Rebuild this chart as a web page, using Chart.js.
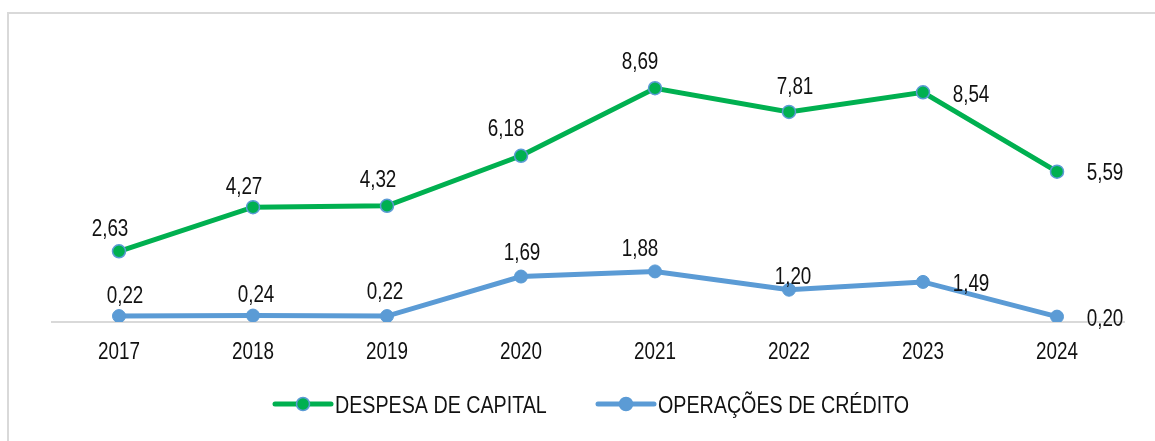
<!DOCTYPE html>
<html>
<head>
<meta charset="utf-8">
<script src="https://cdn.jsdelivr.net/npm/chart.js@4"></script>
<style>
  html, body { margin: 0; padding: 0; background: #fff; }
  #wrap { position: relative; width: 1155px; height: 441px; overflow: hidden; }
  #frame { position: absolute; left: 7px; top: 12px; width: 1200px; height: 500px; border: 2px solid #d9d9d9; box-sizing: border-box; }
  canvas { position: absolute; left: 0; top: 0; }
</style>
</head>
<body>
<div id="wrap">
  <div id="frame"></div>
  <canvas id="chart" width="1155" height="441"></canvas>
</div>
<script>
// data
const years = ['2017', '2018', '2019', '2020', '2021', '2022', '2023', '2024'];
const despesaCapital = [2.63, 4.27, 4.32, 6.18, 8.69, 7.81, 8.54, 5.59];
const operacoesCredito = [0.22, 0.24, 0.22, 1.69, 1.88, 1.20, 1.49, 0.20];
const seriesNames = ['DESPESA DE CAPITAL', 'OPERAÇÕES DE CRÉDITO'];

// label placement (offset from the point, px)
const greenLabelOffsets = [[-9, -23], [-9, -21], [-9, -27], [-15, -28], [-15, -27], [6, -26], [48, 2], [48, 0]];
const blueLabelOffsets = [[6, -21], [3, -22], [-2, -25], [1, -25], [-15, -23], [4, -14], [48, 1], [48, 1]];

// no Arial Narrow here: Liberation Sans squeezed horizontally is the same shape
const FONT = '"Liberation Sans", Arial, sans-serif';
const NARROW = 0.82;
const GREEN = '#00B050';
const BLUE = '#5B9BD5';
const TEXT = '#111';

const fmt = (v) => v.toFixed(2).replace('.', ',');

function narrowText(ctx, text, x, y, align){
  ctx.save();
  ctx.translate(x, y);
  ctx.scale(NARROW, 1);
  ctx.textAlign = align;
  ctx.fillText(text, 0, 0);
  ctx.restore();
}

const valueLabels = {
  id: 'valueLabels',
  afterDatasetsDraw(chart){
    const ctx = chart.ctx;
    const offs = [greenLabelOffsets, blueLabelOffsets];
    ctx.save();
    ctx.font = '23px ' + FONT;
    ctx.fillStyle = TEXT;
    ctx.textBaseline = 'alphabetic';
    chart.data.datasets.forEach((ds, di) => {
      chart.getDatasetMeta(di).data.forEach((pt, i) => {
        const o = offs[di][i];
        narrowText(ctx, fmt(ds.data[i]), pt.x + o[0], pt.y + o[1] + 8, 'center');
      });
    });
    ctx.restore();
  }
};

// category labels, placed by the x scale but drawn narrow
const yearLabels = {
  id: 'yearLabels',
  afterDraw(chart){
    const ctx = chart.ctx;
    const sx = chart.scales.x;
    ctx.save();
    ctx.font = '23px ' + FONT;
    ctx.fillStyle = TEXT;
    ctx.textBaseline = 'alphabetic';
    sx.ticks.forEach((t, i) => {
      narrowText(ctx, sx.getLabelForValue(t.value), sx.getPixelForTick(i), sx.top + 37, 'center');
    });
    ctx.restore();
  }
};

// legend: line with a marker in the middle, like the office chart
const lineLegend = {
  id: 'lineLegend',
  afterDraw(chart){
    const ctx = chart.ctx;
    const items = [{ x: 275, ds: chart.data.datasets[0] }, { x: 598, ds: chart.data.datasets[1] }];
    const y = 404;
    ctx.save();
    ctx.font = '24px ' + FONT;
    ctx.textBaseline = 'alphabetic';
    for(const it of items){
      ctx.strokeStyle = it.ds.borderColor;
      ctx.lineWidth = 5;
      ctx.lineCap = 'round';
      ctx.beginPath();
      ctx.moveTo(it.x, y);
      ctx.lineTo(it.x + 56, y);
      ctx.stroke();
      ctx.beginPath();
      ctx.arc(it.x + 28, y, 6.5, 0, Math.PI * 2);
      ctx.fillStyle = it.ds.pointBackgroundColor;
      ctx.fill();
      ctx.lineWidth = 1.5;
      ctx.strokeStyle = it.ds.pointBorderColor;
      ctx.stroke();
      ctx.fillStyle = TEXT;
      narrowText(ctx, it.ds.label, it.x + 60, y + 8.5, 'left');
    }
    ctx.restore();
  }
};

new Chart(document.getElementById('chart'), {
  type: 'line',
  data: {
    labels: years,
    datasets: [{
      label: seriesNames[0],
      data: despesaCapital,
      borderColor: GREEN,
      borderWidth: 5,
      pointRadius: 6.5,
      pointBackgroundColor: GREEN,
      pointBorderColor: BLUE,
      pointBorderWidth: 1.5,
      tension: 0
    }, {
      label: seriesNames[1],
      data: operacoesCredito,
      borderColor: BLUE,
      borderWidth: 5,
      pointRadius: 6.5,
      pointBackgroundColor: BLUE,
      pointBorderColor: BLUE,
      pointBorderWidth: 1,
      tension: 0
    }]
  },
  options: {
    responsive: false,
    animation: false,
    layout: { padding: { left: 52, right: 31, top: 53, bottom: 0 } },
    plugins: { legend: { display: false }, tooltip: { enabled: false } },
    scales: {
      x: {
        offset: true,
        grid: { display: false },
        border: { display: true, color: '#d9d9d9', width: 2 },
        ticks: { display: false },
        afterFit(scale){ scale.height = 119; }
      },
      y: { display: false, min: 0, max: 10 }
    }
  },
  plugins: [valueLabels, yearLabels, lineLegend]
});
</script>
</body>
</html>
